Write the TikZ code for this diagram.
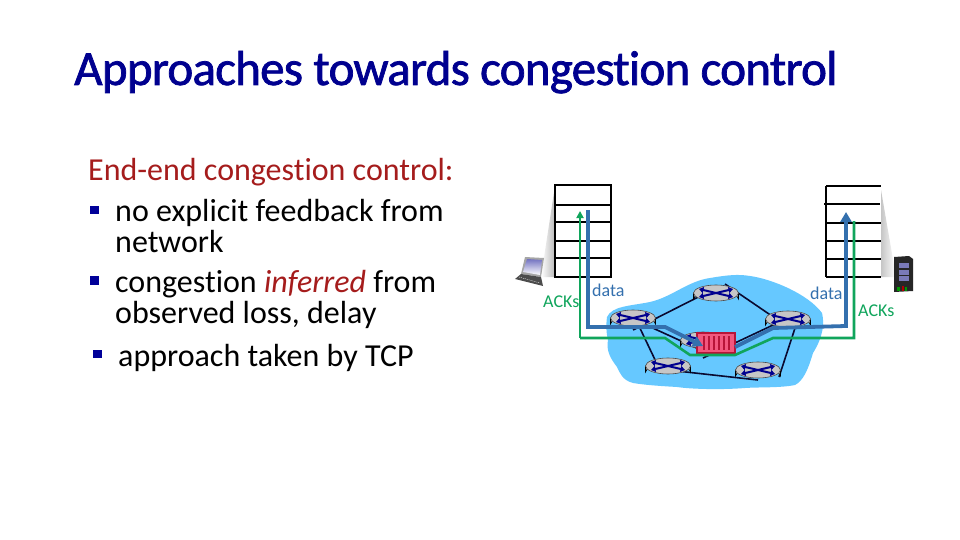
\documentclass[tikz,border=0pt]{standalone}
\usepackage{fontspec}
\setmainfont[RawFeature={-liga}]{Carlito}
\newfontfamily\titlefont[FakeBold=1.5,RawFeature={-liga},LetterSpace=-1.5]{Carlito}
\usetikzlibrary{arrows.meta}
\definecolor{navyT}{HTML}{00008F}
\definecolor{redT}{HTML}{A51C1C}
\definecolor{bulletB}{HTML}{000099}
\definecolor{cloudB}{HTML}{66C8FF}
\definecolor{flowB}{HTML}{3470AE}
\definecolor{flowG}{HTML}{10A55C}
\definecolor{linkK}{HTML}{0A0A30}
\definecolor{queueP}{HTML}{F2577E}
\definecolor{queueR}{HTML}{B81438}
\tikzset{
  titletext/.style={anchor=base west,inner sep=0pt,text=navyT,font=\titlefont\fontsize{49}{49}\selectfont},
  bodytext/.style={anchor=base west,inner sep=0pt,font=\fontsize{32}{32}\selectfont},
  smalltext/.style={anchor=base west,inner sep=0pt,font=\fontsize{18}{18}\selectfont},
  bulletbox/.style={fill=bulletB,draw=none},
  windowline/.style={line width=2pt,black},
  wedge/.style={draw=none},
  link/.style={line width=1.6pt,linkK},
  dataflow/.style={line width=3.8pt,flowB,line join=miter},
  ackflow/.style={line width=2.6pt,flowG,line join=miter},
  xarrow/.style={line width=2pt,color=navyT,{Triangle[length=4.5pt,width=6pt]}-{Triangle[length=4.5pt,width=6pt]}},
}
\newcommand{\routerat}[3]{%
  \coordinate (#1) at (#2,#3);
  \begin{scope}[shift={(#2,#3)}]
    \path[left color=gray!55,right color=gray!30,middle color=white,draw=black,line width=.7pt]
      (-22.5,-3) -- (-22.5,3) arc[start angle=180,end angle=360,x radius=22.5,y radius=8] -- (22.5,-3) -- cycle;
    \path[fill=gray!45,draw=black!70,line width=.6pt] (0,-3) ellipse[x radius=22.5,y radius=8];
    \draw[xarrow] (-17,-7) -- (17,1);
    \draw[xarrow] (-17,1) -- (17,-7);
  \end{scope}}
\begin{document}
\begin{tikzpicture}[x=1pt,y=-1pt]
\useasboundingbox[fill=white] (0,0) rectangle (960,540);
% text
\node[titletext] (title) at (74,85) {Approaches towards congestion control};
\node[bodytext,text=redT] (head) at (88,180) {End-end congestion control:};
\node[bodytext] (l1) at (115,221) {no explicit feedback from};
\node[bodytext] (l2) at (115,252) {network};
\node[bodytext] (l3) at (115,292) {congestion \textcolor{redT}{\textit{inferred}} from};
\node[bodytext] (l4) at (115,323) {observed loss, delay};
\node[bodytext] (l5) at (118,366) {approach taken by TCP};
\fill[bulletbox] (90,206) rectangle (99,214);
\fill[bulletbox] (90,276) rectangle (99,285);
\fill[bulletbox] (93,350) rectangle (102,358);
% wedges
\path[wedge,left color=white,right color=gray!55] (555,186) -- (555,277) -- (541,277) -- cycle;
\path[wedge,left color=gray!45,right color=white] (881,190) -- (881,277) -- (896,277) -- cycle;
% windows
\draw[windowline] (555,185) rectangle (611,277);
\foreach \y in {205,222,241,258} \draw[windowline] (555,\y) -- (611,\y);
\draw[windowline] (826,186) -- (826,277);
\foreach \y in {186,223,241,259,277} \draw[windowline] (826,\y) -- (881,\y);
\draw[windowline] (824,204) -- (880,204);
% laptop
\fill[gray!70] (525,257) -- (544,258) -- (541,277) -- (521,274) -- cycle;
\path[top color=navyT!55,bottom color=white] (527,259) -- (542,260) -- (540,275) -- (523,272) -- cycle;
\fill[black!70] (521,274) -- (541,277) -- (543,286) -- (515,279) -- cycle;
\draw[white,line width=.4pt,dash pattern=on 1pt off 1pt] (519,277) -- (540,283);
% server
\fill[black!85] (894,257) -- (909,256) -- (913,259) -- (913,291) -- (894,292) -- cycle;
\foreach \y in {263,270,276} \fill[blue!30!gray!80!white] (899,\y) rectangle (909,\y+5);
\fill[green!60!black] (897,287) rectangle (900,291);
\fill[red!70!black] (902,286) rectangle (904,291);
\fill[green!60!black] (905,287) rectangle (907,291);
% cloud
\fill[cloudB] (607,317) .. controls (612,306) and (630,306) .. (650,302)
  .. controls (672,297) and (688,281) .. (710,278)
  .. controls (728,275) and (738,274) .. (750,276)
  .. controls (772,279) and (808,294) .. (822,313)
  .. controls (826,330) and (818,345) .. (813,353)
  .. controls (808,370) and (803,381) .. (795,385)
  .. controls (780,388) and (760,387) .. (745,388)
  .. controls (720,390) and (690,389) .. (677,387)
  .. controls (660,386) and (645,385) .. (633,383)
  .. controls (622,380) and (620,373) .. (617,367)
  .. controls (610,358) and (606,350) .. (608,340)
  .. controls (606,332) and (606,325) .. (607,317) -- cycle;
% link ends
\coordinate (aToB) at (633,330);
\coordinate (bToA) at (716,288);
\coordinate (bToE) at (725,284);
\coordinate (eToB) at (788,327);
\coordinate (aToC) at (633,319);
\coordinate (cToA) at (703,351);
\coordinate (aToD) at (637,322);
\coordinate (dToA) at (658,366);
\coordinate (dToF) at (668,370);
\coordinate (fToD) at (758,380);
\coordinate (cToE) at (703,358);
\coordinate (eToC) at (788,318);
\coordinate (eToF) at (797,322);
\coordinate (fToE) at (779,377);
\draw[link] (aToB) -- (bToA);
\draw[link] (aToC) -- (cToA);
\draw[link] (aToD) -- (dToA);
\draw[link] (dToF) -- (fToD);
\draw[link] (bToE) -- (eToB);
\draw[link] (cToE) -- (eToC);
\draw[link] (eToF) -- (fToE);
\routerat{rA}{633}{321}
\routerat{rB}{716}{296}
\routerat{rC}{703}{343}
\routerat{rD}{668}{369}
\routerat{rE}{788}{322}
\routerat{rF}{758}{373}
% queue
\node[draw=queueR,line width=1.4pt,fill=queueP,minimum width=38pt,minimum height=20pt,inner sep=0pt] (queue) at (716,343) {};
\foreach \x in {704,709,...,729} \draw[queueR,line width=1.6pt] (\x,336) -- (\x,350);
% flows
\coordinate (dA) at (588,210);
\coordinate (dB) at (588,327);
\coordinate (dC) at (665,327);
\coordinate (dD) at (703,346);
\coordinate (dE) at (735,347);
\coordinate (dF) at (773,328);
\coordinate (dG) at (846,326);
\coordinate (dH) at (846,212);
\coordinate (gA) at (580,211);
\coordinate (gB) at (580,338);
\coordinate (gC) at (665,338);
\coordinate (gD) at (690,355);
\coordinate (gE) at (735,355);
\coordinate (gF) at (773,338);
\coordinate (gG) at (854,338);
\coordinate (gH) at (854,221);
\draw[ackflow,-{Triangle[length=7pt,width=7pt]}] (gB) -- (gA);
\draw[ackflow] (gB) -- (gC) -- (gD) -- (gE) -- (gF) -- (gG) -- (gH);
\draw[dataflow,-{Triangle[length=10pt,width=11pt]}] (dA) -- (dB) -- (dC) -- (dD);
\draw[dataflow,-{Triangle[length=10pt,width=11pt]}] (dE) -- (dF) -- (dG) -- (dH);
% labels
\node[smalltext,text=flowG] (ackL) at (543,307) {ACKs};
\node[smalltext,text=flowB] (dataL) at (592,296) {data};
\node[smalltext,text=flowB] (dataR) at (810,299) {data};
\node[smalltext,text=flowG] (ackR) at (858,316) {ACKs};
\end{tikzpicture}
\end{document}
